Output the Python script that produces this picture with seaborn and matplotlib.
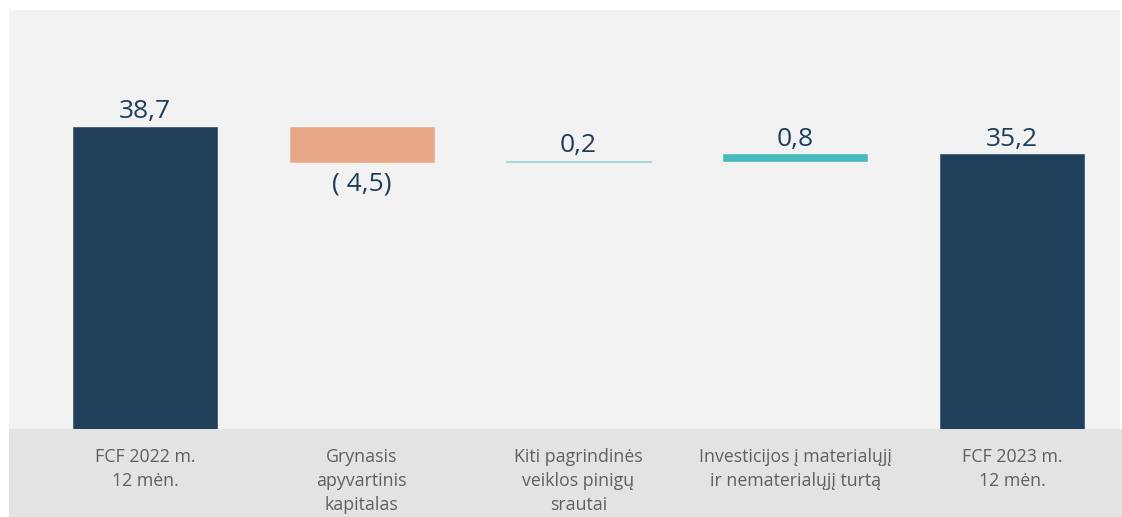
import numpy as np
import pandas as pd
import seaborn as sns
import matplotlib.pyplot as plt
from matplotlib.patches import Rectangle

# Duomenys (mln. EUR)
kategorijos = [
    "FCF 2022 m.\n12 mėn.",
    "Grynasis\napyvartinis\nkapitalas",
    "Kiti pagrindinės\nveiklos pinigų\nsrautai",
    "Investicijos į materialųjį\nir nematerialųjį turtą",
    "FCF 2023 m.\n12 mėn.",
]
pokyciai = [38.7, -4.5, 0.2, 0.8, 35.2]
tipai = ["suma", "pokytis", "pokytis", "pokytis", "suma"]
etiketes = ["38,7", "( 4,5)", "0,2", "0,8", "35,2"]
spalvos = ["#1f3f5b", "#e9a885", "#8fd0d2", "#45b9bc", "#1f3f5b"]

# Krioklio pradžios ir pabaigos taškai
apacia, virsus = [], []
einamas = 0.0
for v, t in zip(pokyciai, tipai):
    if t == "suma":
        apacia.append(0.0)
        virsus.append(v)
        einamas = v
    else:
        apacia.append(einamas)
        einamas += v
        virsus.append(einamas)

df = pd.DataFrame({
    "kategorija": kategorijos,
    "zemiau": np.minimum(apacia, virsus),
    "auksciau": np.maximum(apacia, virsus),
})
df["aukstis"] = df["auksciau"] - df["zemiau"]

sns.set_theme(style="white")
plt.rcParams["font.family"] = ["Open Sans", "DejaVu Sans"]

fig = plt.figure(figsize=(11.22, 5.17), dpi=100)
fig.patch.set_facecolor("white")
ax = fig.add_axes([9 / 1122, 1 - 429 / 517, 1111 / 1122, 419 / 517])
ax.set_facecolor("#f2f2f2")

# apatinė juosta su kategorijų pavadinimais
fig.add_artist(Rectangle((9 / 1122, 0), 1 - 9 / 1122, 1 - 429 / 517,
                         transform=fig.transFigure, facecolor="#e3e3e3",
                         edgecolor="none", zorder=0))

sns.barplot(data=df, x="kategorija", y="aukstis", hue="kategorija",
            palette=spalvos, width=0.665, legend=False, ax=ax,
            saturation=1, linewidth=0)

# perkeliam stulpelius į krioklio pozicijas
for p, z, c in zip(ax.patches, df["zemiau"], spalvos):
    p.set_y(z)
    p.set_edgecolor(c)
    p.set_linewidth(0.4)

for i, (v, txt) in enumerate(zip(pokyciai, etiketes)):
    if v < 0:
        ax.annotate(txt, (i, df["zemiau"][i]), xytext=(0, -7),
                    textcoords="offset points", ha="center", va="top",
                    fontsize=19, color="#1f3e5a")
    else:
        ax.annotate(txt, (i, df["auksciau"][i]), xytext=(0, 2),
                    textcoords="offset points", ha="center", va="bottom",
                    fontsize=19, color="#1f3e5a")

ax.set_ylim(0, 53.7)
ax.set_xlim(-0.627, 4.498)
ax.set_yticks([])
ax.set_xlabel("")
ax.set_ylabel("")
ax.tick_params(axis="x", length=0, pad=14, labelsize=12.8, labelcolor="#5f5f5f")
for lbl in ax.get_xticklabels():
    lbl.set_verticalalignment("top")
    lbl.set_linespacing(1.4)
sns.despine(ax=ax, left=True, bottom=True)

fig.savefig("out.png", dpi=100)
